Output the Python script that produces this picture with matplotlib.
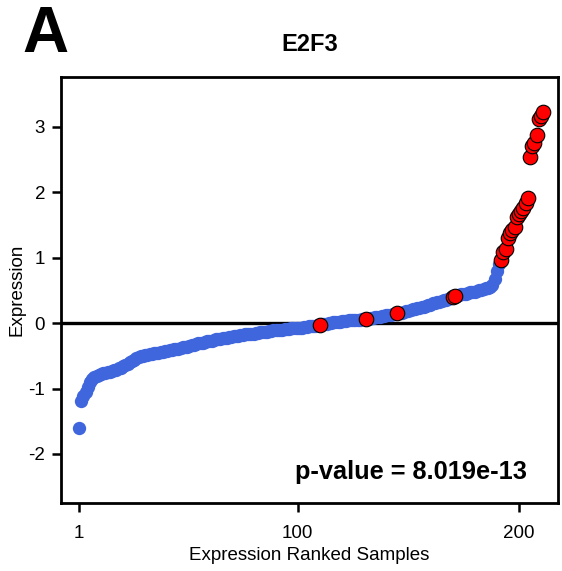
import numpy as np
import matplotlib
matplotlib.use("Agg")
import matplotlib.pyplot as plt

plt.rcParams['font.family'] = ['Liberation Sans', 'DejaVu Sans']
plt.rcParams['axes.unicode_minus'] = False

# sorted expression values of E2F3 (rank 1..211)
expression = [
    -1.60, -1.19, -1.12, -1.05, -0.98, -0.90, -0.85, -0.83, -0.81, -0.80,
    -0.78, -0.77, -0.76, -0.75, -0.74, -0.73, -0.72, -0.71, -0.69, -0.68,
    -0.66, -0.64, -0.62, -0.60, -0.58, -0.56, -0.54, -0.52, -0.51, -0.50,
    -0.49, -0.48, -0.47, -0.47, -0.46, -0.45, -0.45, -0.44, -0.44, -0.43,
    -0.42, -0.41, -0.41, -0.40, -0.39, -0.39, -0.38, -0.37, -0.37, -0.36,
    -0.35, -0.34, -0.33, -0.32, -0.31, -0.30, -0.30, -0.29, -0.28, -0.28,
    -0.27, -0.26, -0.25, -0.25, -0.24, -0.23, -0.23, -0.22, -0.21, -0.21,
    -0.20, -0.19, -0.19, -0.18, -0.18, -0.17, -0.17, -0.16, -0.16, -0.16,
    -0.15, -0.15, -0.14, -0.14, -0.13, -0.13, -0.12, -0.12, -0.11, -0.11,
    -0.10, -0.10, -0.10, -0.09, -0.09, -0.09, -0.08, -0.08, -0.08, -0.08,
    -0.07, -0.07, -0.06, -0.06, -0.05, -0.05, -0.04, -0.04, -0.03, -0.03,
    -0.02, -0.01, -0.01, 0.00, 0.00, 0.01, 0.01, 0.02, 0.02, 0.03,
    0.03, 0.03, 0.04, 0.04, 0.04, 0.05, 0.05, 0.05, 0.06, 0.06,
    0.07, 0.07, 0.08, 0.08, 0.09, 0.09, 0.10, 0.11, 0.11, 0.12,
    0.13, 0.13, 0.14, 0.14, 0.15, 0.16, 0.16, 0.17, 0.18, 0.19,
    0.20, 0.21, 0.22, 0.23, 0.23, 0.24, 0.25, 0.26, 0.27, 0.28,
    0.30, 0.31, 0.32, 0.33, 0.34, 0.35, 0.36, 0.37, 0.39, 0.40,
    0.41, 0.42, 0.43, 0.44, 0.45, 0.45, 0.46, 0.47, 0.47, 0.48,
    0.49, 0.50, 0.51, 0.52, 0.53, 0.54, 0.55, 0.58, 0.68, 0.80,
    0.91, 0.97, 1.08, 1.13, 1.30, 1.38, 1.42, 1.47, 1.62, 1.66,
    1.71, 1.76, 1.84, 1.91, 2.54, 2.70, 2.76, 2.87, 3.12, 3.17,
    3.22,
]
# ranks of the highlighted (red) samples
red_ranks = [110, 131, 145, 170, 171, 192, 193, 194, 195, 196, 197, 198,
             199, 200, 201, 202, 203, 204, 205, 206, 207, 208, 209, 210, 211]
pvalue_text = "p-value = 8.019e-13"

ranks = np.arange(1, len(expression) + 1)
expr = np.array(expression)
red_idx = np.array(red_ranks) - 1

fig = plt.figure(figsize=(5.62, 5.71), dpi=100)
ax = fig.add_axes([0.1085, 0.119, 0.8845, 0.746])

ax.axhline(0, color='black', linewidth=2.4, zorder=1)
ax.scatter(ranks, expr, s=92, color='#3f66dd', linewidths=0, zorder=2)
ax.scatter(ranks[red_idx], expr[red_idx], s=110, color='red',
           edgecolors='black', linewidths=0.8, zorder=3)

ax.set_xlim(-7.1, 217.7)
ax.set_ylim(-2.75, 3.76)
ax.set_xticks([1, 100, 200])
ax.set_yticks([-2, -1, 0, 1, 2, 3])

for sp in ax.spines.values():
    sp.set_linewidth(2.0)
ax.tick_params(direction='out', length=6.5, width=1.8, labelsize=13.5,
               pad=5)
ax.tick_params(axis='x', pad=9)

ax.set_xlabel("Expression Ranked Samples", fontsize=13.5, labelpad=4)
ax.set_ylabel("Expression", fontsize=13.5, labelpad=2)
ax.set_title("E2F3", fontsize=17, fontweight='bold', pad=19)

ax.text(0.938, 0.045, pvalue_text, transform=ax.transAxes, ha='right',
        va='bottom', fontsize=18.3, fontweight='bold')

fig.text(0.04, 0.991, "A", fontsize=46, fontweight='bold', va='top')

fig.savefig("out.png", dpi=100)
